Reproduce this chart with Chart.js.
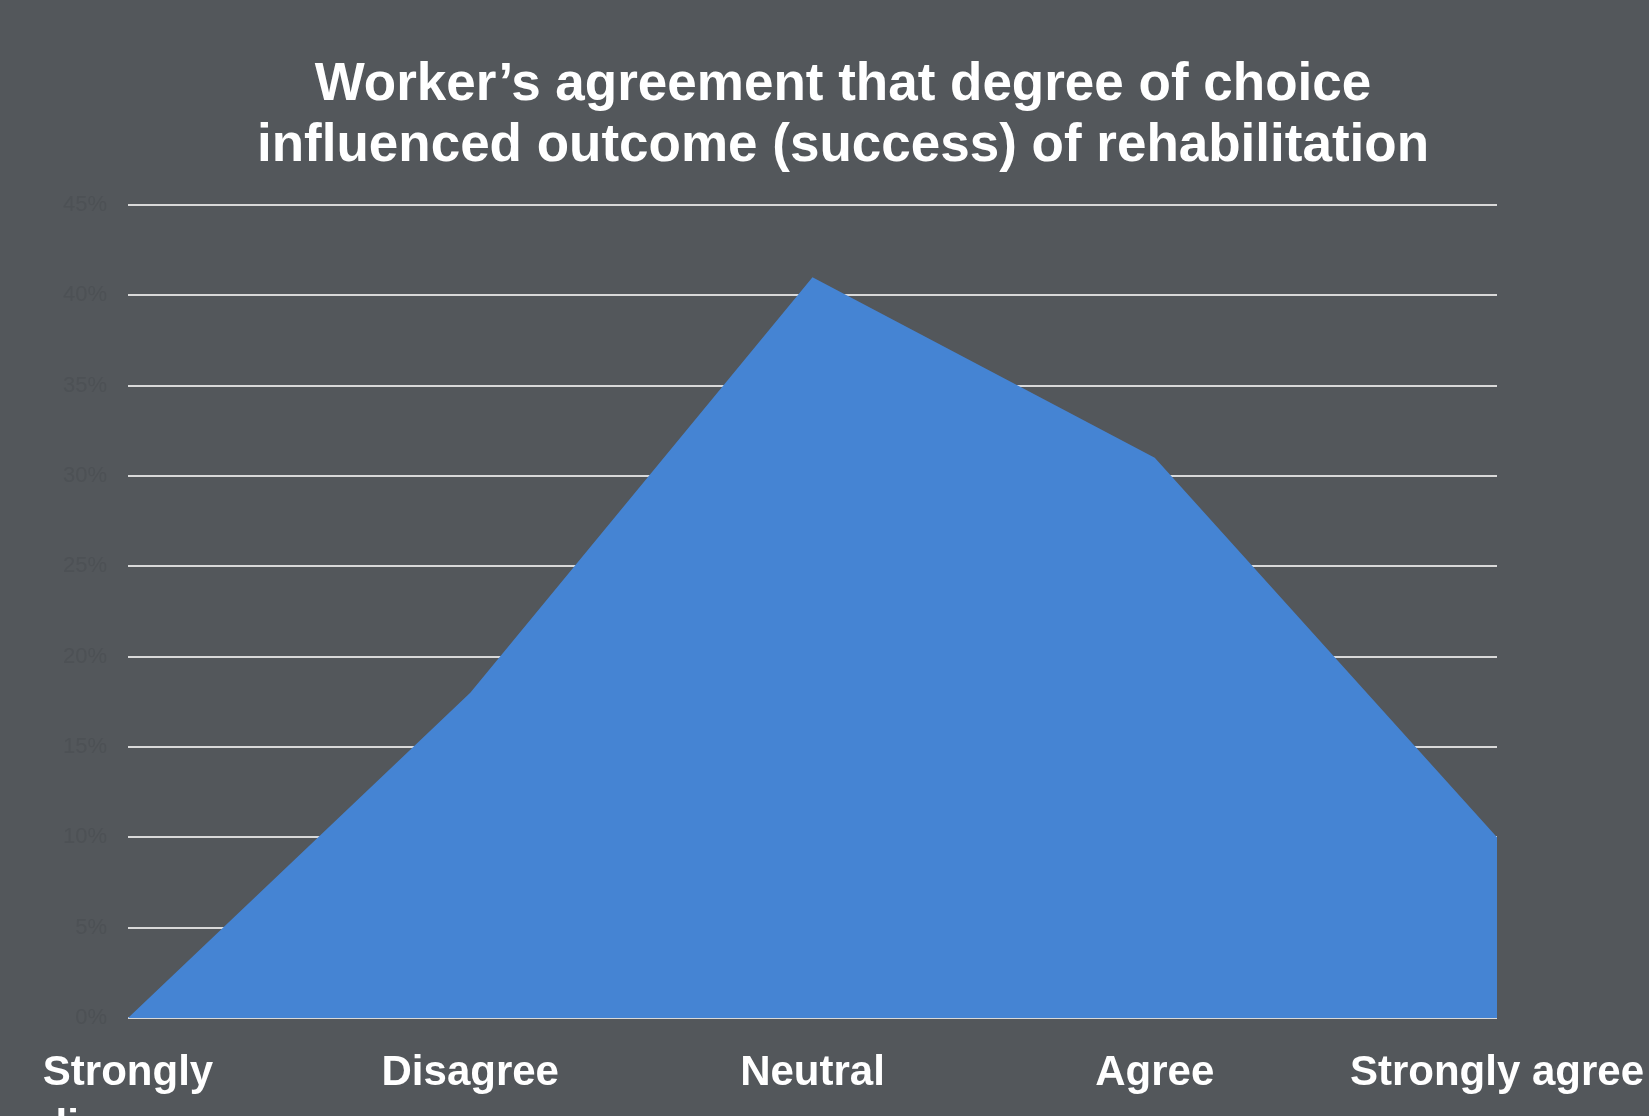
<!DOCTYPE html>
<html>
<head>
<meta charset="utf-8">
<script src="https://cdn.jsdelivr.net/npm/chart.js@4/dist/chart.umd.min.js"></script>
<style>
    body { margin: 0; background: #53575b; overflow: hidden; }
    #wrap { width: 1649px; height: 1116px; }
</style>
</head>
<body>
<div id="wrap"><canvas id="chart" width="1649" height="1116"></canvas></div>
<script>
const categories = [["Strongly", "disagree"], "Disagree", "Neutral", "Agree", "Strongly agree"];
const shares = [0, 18, 41, 31, 10];
const chartTitle = ["Worker\u2019s agreement that degree of choice", "influenced outcome (success) of rehabilitation"];

const ctx = document.getElementById('chart');
let chart = new Chart(ctx, {
    type: 'line',
    data: {
        labels: categories,
        datasets: [{
            data: shares,
            fill: 'origin',
            backgroundColor: '#4584d3',
            borderWidth: 0,
            pointRadius: 0,
            tension: 0
        }]
    },
    options: {
        responsive: false,
        animation: false,
        layout: { padding: { left: 37, right: 0, top: 0, bottom: 0 } },
        plugins: {
            legend: { display: false },
            tooltip: { enabled: false },
            title: {
                display: true,
                text: chartTitle,
                color: '#ffffff',
                font: { family: 'Liberation Sans', size: 53, weight: 'bold', lineHeight: 1.15 },
                padding: { top: 55, bottom: 28 }
            }
        },
        scales: {
            x: {
                grid: { display: false },
                border: { display: false },
                ticks: {
                    color: '#ffffff',
                    maxRotation: 0,
                    autoSkip: false,
                    padding: 20,
                    font: { family: 'Liberation Sans', size: 42, weight: 'bold', lineHeight: 1.3 }
                },
                afterFit: function(scale) {
                    scale.height = 98;
                    scale.paddingRight = 152;
                }
            },
            y: {
                min: 0,
                max: 45,
                grid: { color: '#d9d9d9', lineWidth: 2, drawTicks: false },
                border: { display: false },
                ticks: {
                    stepSize: 5,
                    padding: 21,
                    color: '#4d5155',
                    font: { family: 'Liberation Sans', size: 22 },
                    callback: function(v) { return v + '%'; }
                },
                afterFit: function(scale) {
                    scale.width = 91;
                }
            }
        }
    }
});
</script>
</body>
</html>
